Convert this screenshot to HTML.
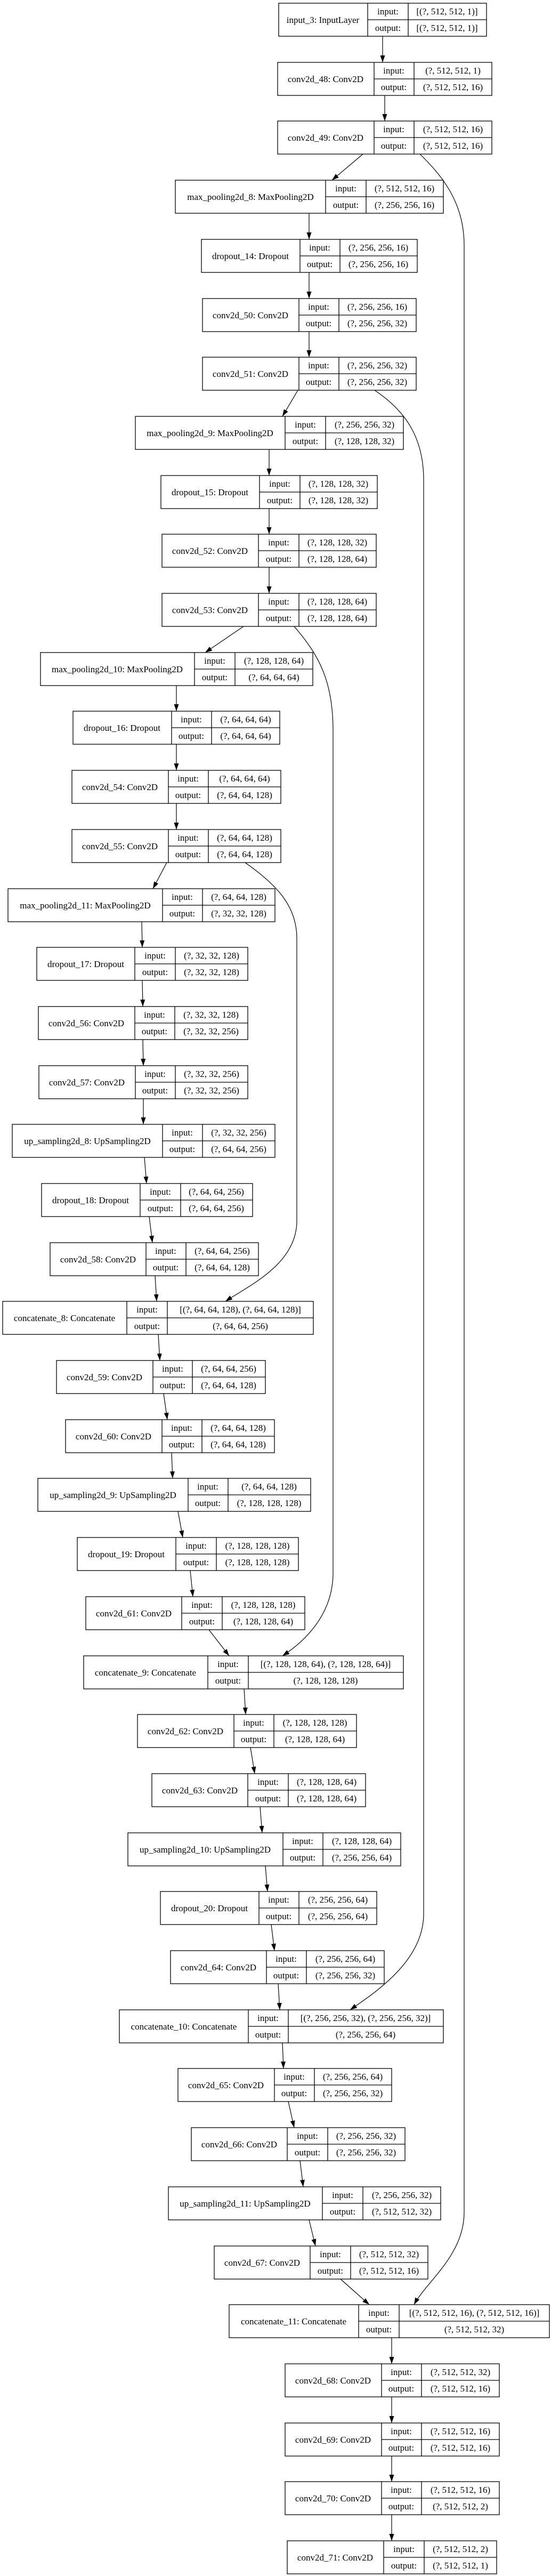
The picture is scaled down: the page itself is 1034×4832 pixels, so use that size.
<!DOCTYPE html>
<html><head><meta charset="utf-8"><style>
html,body{margin:0;padding:0;background:#fff;}
svg{display:block;}
text{font-family:"Liberation Serif","DejaVu Serif",serif;font-size:17px;fill:#000;}
</style></head><body>
<svg width="1034" height="4832" viewBox="0 0 1034 4832" xmlns="http://www.w3.org/2000/svg">
<defs>
<marker id="a" markerUnits="userSpaceOnUse" markerWidth="14" markerHeight="10" refX="13" refY="4.5" orient="auto"><path d="M0,0 L13,4.5 L0,9 z" fill="#000"/></marker>
</defs>
<g fill="none" stroke="#000" stroke-width="1.2">
<!-- skip connections -->
<path d="M788,289 C830,330 871,380 871,460 L871,4150 C871,4230 800,4280 777,4323" marker-end="url(#a)"/>
<path d="M703,732 C760,770 795,820 795,900 L795,3590 C795,3680 700,3740 657,3770" marker-end="url(#a)"/>
<path d="M552,1175 C600,1230 625,1280 625,1370 L625,2950 C625,3030 570,3080 530,3106" marker-end="url(#a)"/>
<path d="M460,1618 C520,1660 557,1700 557,1760 L557,2290 C557,2370 470,2410 423,2441" marker-end="url(#a)"/>
<!-- main edges -->
<path d="M718,68 L718,117" marker-end="url(#a)"/>
<path d="M722,179 L722,227" marker-end="url(#a)"/>
<path d="M681,289 L623,338" marker-end="url(#a)"/>
<path d="M580,400 L580,449" marker-end="url(#a)"/>
<path d="M580,511 L580,560" marker-end="url(#a)"/>
<path d="M580,622 L580,670" marker-end="url(#a)"/>
<path d="M559,732 L530,781" marker-end="url(#a)"/>
<path d="M505,843 L505,892" marker-end="url(#a)"/>
<path d="M505,954 L505,1002" marker-end="url(#a)"/>
<path d="M505,1064 L505,1113" marker-end="url(#a)"/>
<path d="M457,1175 L385,1224" marker-end="url(#a)"/>
<path d="M331,1286 L331,1334" marker-end="url(#a)"/>
<path d="M331,1396 L331,1445" marker-end="url(#a)"/>
<path d="M331,1507 L331,1556" marker-end="url(#a)"/>
<path d="M313,1618 L287,1667" marker-end="url(#a)"/>
<path d="M266,1729 L267,1777" marker-end="url(#a)"/>
<path d="M267,1839 L268,1888" marker-end="url(#a)"/>
<path d="M268,1950 L269,1999" marker-end="url(#a)"/>
<path d="M269,2061 L269,2109" marker-end="url(#a)"/>
<path d="M271,2171 L275,2220" marker-end="url(#a)"/>
<path d="M280,2282 L286,2331" marker-end="url(#a)"/>
<path d="M291,2393 L294,2441" marker-end="url(#a)"/>
<path d="M297,2503 L300,2552" marker-end="url(#a)"/>
<path d="M307,2614 L314,2663" marker-end="url(#a)"/>
<path d="M322,2725 L324,2773" marker-end="url(#a)"/>
<path d="M334,2835 L343,2884" marker-end="url(#a)"/>
<path d="M357,2946 L362,2995" marker-end="url(#a)"/>
<path d="M392,3057 L430,3106" marker-end="url(#a)"/>
<path d="M458,3168 L461,3216" marker-end="url(#a)"/>
<path d="M470,3278 L478,3327" marker-end="url(#a)"/>
<path d="M488,3389 L492,3438" marker-end="url(#a)"/>
<path d="M498,3500 L502,3548" marker-end="url(#a)"/>
<path d="M509,3610 L515,3659" marker-end="url(#a)"/>
<path d="M522,3721 L525,3770" marker-end="url(#a)"/>
<path d="M530,3832 L532,3880" marker-end="url(#a)"/>
<path d="M541,3942 L552,3991" marker-end="url(#a)"/>
<path d="M563,4053 L569,4102" marker-end="url(#a)"/>
<path d="M580,4164 L592,4213" marker-end="url(#a)"/>
<path d="M639,4275 L693,4323" marker-end="url(#a)"/>
<path d="M735,4385 L735,4434" marker-end="url(#a)"/>
<path d="M735,4496 L735,4545" marker-end="url(#a)"/>
<path d="M735,4607 L735,4655" marker-end="url(#a)"/>
<path d="M735,4717 L735,4766" marker-end="url(#a)"/>
</g>
<g fill="#fff" stroke="#000" stroke-width="1.3">
<!-- boxes: rect + dividers -->
<rect x="523" y="6" width="390" height="62"/><path d="M690,6V68M766,6V68M690,37H913"/>
<rect x="521" y="117" width="402" height="62"/><path d="M702,117V179M777,117V179M702,148H923"/>
<rect x="521" y="227" width="402" height="62"/><path d="M702,227V289M777,227V289M702,258H923"/>
<rect x="329" y="338" width="503" height="62"/><path d="M611,338V400M687,338V400M611,369H832"/>
<rect x="378" y="449" width="405" height="62"/><path d="M563,449V511M638,449V511M563,480H783"/>
<rect x="380" y="560" width="401" height="62"/><path d="M561,560V622M636,560V622M561,591H781"/>
<rect x="380" y="670" width="401" height="62"/><path d="M561,670V732M636,670V732M561,701H781"/>
<rect x="254" y="781" width="503" height="62"/><path d="M535,781V843M611,781V843M535,812H757"/>
<rect x="302" y="892" width="406" height="62"/><path d="M487,892V954M563,892V954M487,923H708"/>
<rect x="304" y="1002" width="402" height="62"/><path d="M485,1002V1064M561,1002V1064M485,1033H706"/>
<rect x="304" y="1113" width="402" height="62"/><path d="M485,1113V1175M561,1113V1175M485,1144H706"/>
<rect x="76" y="1224" width="511" height="62"/><path d="M365,1224V1286M441,1224V1286M365,1255H587"/>
<rect x="137" y="1334" width="388" height="62"/><path d="M322,1334V1396M397,1334V1396M322,1365H525"/>
<rect x="135" y="1445" width="392" height="62"/><path d="M316,1445V1507M391,1445V1507M316,1476H527"/>
<rect x="135" y="1556" width="392" height="62"/><path d="M316,1556V1618M391,1556V1618M316,1587H527"/>
<rect x="15" y="1667" width="501" height="62"/><path d="M305,1667V1729M380,1667V1729M305,1698H516"/>
<rect x="69" y="1777" width="396" height="62"/><path d="M253,1777V1839M329,1777V1839M253,1808H465"/>
<rect x="72" y="1888" width="393" height="62"/><path d="M253,1888V1950M328,1888V1950M253,1919H465"/>
<rect x="73" y="1999" width="392" height="62"/><path d="M254,1999V2061M329,1999V2061M254,2030H465"/>
<rect x="23" y="2109" width="493" height="62"/><path d="M305,2109V2171M380,2109V2171M305,2140H516"/>
<rect x="78" y="2220" width="396" height="62"/><path d="M263,2220V2282M339,2220V2282M263,2251H474"/>
<rect x="94" y="2331" width="391" height="62"/><path d="M274,2331V2393M349,2331V2393M274,2362H485"/>
<rect x="5" y="2441" width="583" height="62"/><path d="M238,2441V2503M314,2441V2503M238,2472H588"/>
<rect x="106" y="2552" width="392" height="62"/><path d="M287,2552V2614M361,2552V2614M287,2583H498"/>
<rect x="123" y="2663" width="392" height="62"/><path d="M304,2663V2725M379,2663V2725M304,2694H515"/>
<rect x="71" y="2773" width="512" height="62"/><path d="M353,2773V2835M428,2773V2835M353,2804H583"/>
<rect x="145" y="2884" width="415" height="62"/><path d="M330,2884V2946M406,2884V2946M330,2915H560"/>
<rect x="161" y="2995" width="411" height="62"/><path d="M341,2995V3057M417,2995V3057M341,3026H572"/>
<rect x="157" y="3106" width="600" height="62"/><path d="M390,3106V3168M466,3106V3168M390,3137H757"/>
<rect x="258" y="3216" width="411" height="62"/><path d="M439,3216V3278M514,3216V3278M439,3247H669"/>
<rect x="285" y="3327" width="401" height="62"/><path d="M465,3327V3389M541,3327V3389M465,3358H686"/>
<rect x="240" y="3438" width="512" height="62"/><path d="M531,3438V3500M606,3438V3500M531,3469H752"/>
<rect x="301" y="3548" width="406" height="62"/><path d="M486,3548V3610M561,3548V3610M486,3579H707"/>
<rect x="320" y="3659" width="401" height="62"/><path d="M500,3659V3721M575,3659V3721M500,3690H721"/>
<rect x="224" y="3770" width="608" height="62"/><path d="M466,3770V3832M541,3770V3832M466,3801H832"/>
<rect x="334" y="3880" width="401" height="62"/><path d="M515,3880V3942M590,3880V3942M515,3911H735"/>
<rect x="359" y="3991" width="401" height="62"/><path d="M539,3991V4053M615,3991V4053M539,4022H760"/>
<rect x="316" y="4102" width="511" height="62"/><path d="M605,4102V4164M681,4102V4164M605,4133H827"/>
<rect x="402" y="4213" width="401" height="62"/><path d="M582,4213V4275M658,4213V4275M582,4244H803"/>
<rect x="430" y="4323" width="601" height="62"/><path d="M673,4323V4385M749,4323V4385M673,4354H1031"/>
<rect x="535" y="4434" width="402" height="62"/><path d="M716,4434V4496M791,4434V4496M716,4465H937"/>
<rect x="535" y="4545" width="402" height="62"/><path d="M716,4545V4607M791,4545V4607M716,4576H937"/>
<rect x="535" y="4655" width="402" height="62"/><path d="M716,4655V4717M791,4655V4717M716,4686H937"/>
<rect x="539" y="4766" width="393" height="62"/><path d="M720,4766V4828M796,4766V4828M720,4797H932"/>
</g>
<g text-anchor="middle">
<text x="606" y="43">input_3: InputLayer</text><text x="728" y="27">input:</text><text x="728" y="58">output:</text><text x="839" y="27">[(?, 512, 512, 1)]</text><text x="839" y="58">[(?, 512, 512, 1)]</text>
<text x="611" y="154">conv2d_48: Conv2D</text><text x="739" y="138">input:</text><text x="739" y="169">output:</text><text x="850" y="138">(?, 512, 512, 1)</text><text x="850" y="169">(?, 512, 512, 16)</text>
<text x="611" y="264">conv2d_49: Conv2D</text><text x="739" y="248">input:</text><text x="739" y="279">output:</text><text x="850" y="248">(?, 512, 512, 16)</text><text x="850" y="279">(?, 512, 512, 16)</text>
<text x="470" y="375">max_pooling2d_8: MaxPooling2D</text><text x="649" y="359">input:</text><text x="649" y="390">output:</text><text x="759" y="359">(?, 512, 512, 16)</text><text x="759" y="390">(?, 256, 256, 16)</text>
<text x="470" y="486">dropout_14: Dropout</text><text x="600" y="470">input:</text><text x="600" y="501">output:</text><text x="710" y="470">(?, 256, 256, 16)</text><text x="710" y="501">(?, 256, 256, 16)</text>
<text x="470" y="597">conv2d_50: Conv2D</text><text x="598" y="581">input:</text><text x="598" y="612">output:</text><text x="708" y="581">(?, 256, 256, 16)</text><text x="708" y="612">(?, 256, 256, 32)</text>
<text x="470" y="707">conv2d_51: Conv2D</text><text x="598" y="691">input:</text><text x="598" y="722">output:</text><text x="708" y="691">(?, 256, 256, 32)</text><text x="708" y="722">(?, 256, 256, 32)</text>
<text x="394" y="818">max_pooling2d_9: MaxPooling2D</text><text x="573" y="802">input:</text><text x="573" y="833">output:</text><text x="684" y="802">(?, 256, 256, 32)</text><text x="684" y="833">(?, 128, 128, 32)</text>
<text x="394" y="929">dropout_15: Dropout</text><text x="525" y="913">input:</text><text x="525" y="944">output:</text><text x="635" y="913">(?, 128, 128, 32)</text><text x="635" y="944">(?, 128, 128, 32)</text>
<text x="394" y="1039">conv2d_52: Conv2D</text><text x="523" y="1023">input:</text><text x="523" y="1054">output:</text><text x="633" y="1023">(?, 128, 128, 32)</text><text x="633" y="1054">(?, 128, 128, 64)</text>
<text x="394" y="1150">conv2d_53: Conv2D</text><text x="523" y="1134">input:</text><text x="523" y="1165">output:</text><text x="633" y="1134">(?, 128, 128, 64)</text><text x="633" y="1165">(?, 128, 128, 64)</text>
<text x="220" y="1261">max_pooling2d_10: MaxPooling2D</text><text x="403" y="1245">input:</text><text x="403" y="1276">output:</text><text x="514" y="1245">(?, 128, 128, 64)</text><text x="514" y="1276">(?, 64, 64, 64)</text>
<text x="229" y="1371">dropout_16: Dropout</text><text x="359" y="1355">input:</text><text x="359" y="1386">output:</text><text x="461" y="1355">(?, 64, 64, 64)</text><text x="461" y="1386">(?, 64, 64, 64)</text>
<text x="225" y="1482">conv2d_54: Conv2D</text><text x="353" y="1466">input:</text><text x="353" y="1497">output:</text><text x="459" y="1466">(?, 64, 64, 64)</text><text x="459" y="1497">(?, 64, 64, 128)</text>
<text x="225" y="1593">conv2d_55: Conv2D</text><text x="353" y="1577">input:</text><text x="353" y="1608">output:</text><text x="459" y="1577">(?, 64, 64, 128)</text><text x="459" y="1608">(?, 64, 64, 128)</text>
<text x="160" y="1704">max_pooling2d_11: MaxPooling2D</text><text x="342" y="1688">input:</text><text x="342" y="1719">output:</text><text x="448" y="1688">(?, 64, 64, 128)</text><text x="448" y="1719">(?, 32, 32, 128)</text>
<text x="161" y="1814">dropout_17: Dropout</text><text x="291" y="1798">input:</text><text x="291" y="1829">output:</text><text x="397" y="1798">(?, 32, 32, 128)</text><text x="397" y="1829">(?, 32, 32, 128)</text>
<text x="162" y="1925">conv2d_56: Conv2D</text><text x="290" y="1909">input:</text><text x="290" y="1940">output:</text><text x="396" y="1909">(?, 32, 32, 128)</text><text x="396" y="1940">(?, 32, 32, 256)</text>
<text x="163" y="2036">conv2d_57: Conv2D</text><text x="291" y="2020">input:</text><text x="291" y="2051">output:</text><text x="397" y="2020">(?, 32, 32, 256)</text><text x="397" y="2051">(?, 32, 32, 256)</text>
<text x="164" y="2146">up_sampling2d_8: UpSampling2D</text><text x="342" y="2130">input:</text><text x="342" y="2161">output:</text><text x="448" y="2130">(?, 32, 32, 256)</text><text x="448" y="2161">(?, 64, 64, 256)</text>
<text x="170" y="2257">dropout_18: Dropout</text><text x="301" y="2241">input:</text><text x="301" y="2272">output:</text><text x="406" y="2241">(?, 64, 64, 256)</text><text x="406" y="2272">(?, 64, 64, 256)</text>
<text x="184" y="2368">conv2d_58: Conv2D</text><text x="311" y="2352">input:</text><text x="311" y="2383">output:</text><text x="417" y="2352">(?, 64, 64, 256)</text><text x="417" y="2383">(?, 64, 64, 128)</text>
<text x="121" y="2478">concatenate_8: Concatenate</text><text x="276" y="2462">input:</text><text x="276" y="2493">output:</text><text x="451" y="2462">[(?, 64, 64, 128), (?, 64, 64, 128)]</text><text x="451" y="2493">(?, 64, 64, 256)</text>
<text x="196" y="2589">conv2d_59: Conv2D</text><text x="324" y="2573">input:</text><text x="324" y="2604">output:</text><text x="429" y="2573">(?, 64, 64, 256)</text><text x="429" y="2604">(?, 64, 64, 128)</text>
<text x="213" y="2700">conv2d_60: Conv2D</text><text x="341" y="2684">input:</text><text x="341" y="2715">output:</text><text x="447" y="2684">(?, 64, 64, 128)</text><text x="447" y="2715">(?, 64, 64, 128)</text>
<text x="212" y="2810">up_sampling2d_9: UpSampling2D</text><text x="390" y="2794">input:</text><text x="390" y="2825">output:</text><text x="505" y="2794">(?, 64, 64, 128)</text><text x="505" y="2825">(?, 128, 128, 128)</text>
<text x="237" y="2921">dropout_19: Dropout</text><text x="368" y="2905">input:</text><text x="368" y="2936">output:</text><text x="483" y="2905">(?, 128, 128, 128)</text><text x="483" y="2936">(?, 128, 128, 128)</text>
<text x="251" y="3032">conv2d_61: Conv2D</text><text x="379" y="3016">input:</text><text x="379" y="3047">output:</text><text x="494" y="3016">(?, 128, 128, 128)</text><text x="494" y="3047">(?, 128, 128, 64)</text>
<text x="273" y="3143">concatenate_9: Concatenate</text><text x="428" y="3127">input:</text><text x="428" y="3158">output:</text><text x="611" y="3127">[(?, 128, 128, 64), (?, 128, 128, 64)]</text><text x="611" y="3158">(?, 128, 128, 128)</text>
<text x="348" y="3253">conv2d_62: Conv2D</text><text x="476" y="3237">input:</text><text x="476" y="3268">output:</text><text x="591" y="3237">(?, 128, 128, 128)</text><text x="591" y="3268">(?, 128, 128, 64)</text>
<text x="375" y="3364">conv2d_63: Conv2D</text><text x="503" y="3348">input:</text><text x="503" y="3379">output:</text><text x="613" y="3348">(?, 128, 128, 64)</text><text x="613" y="3379">(?, 128, 128, 64)</text>
<text x="385" y="3475">up_sampling2d_10: UpSampling2D</text><text x="568" y="3459">input:</text><text x="568" y="3490">output:</text><text x="679" y="3459">(?, 128, 128, 64)</text><text x="679" y="3490">(?, 256, 256, 64)</text>
<text x="393" y="3585">dropout_20: Dropout</text><text x="523" y="3569">input:</text><text x="523" y="3600">output:</text><text x="634" y="3569">(?, 256, 256, 64)</text><text x="634" y="3600">(?, 256, 256, 64)</text>
<text x="410" y="3696">conv2d_64: Conv2D</text><text x="537" y="3680">input:</text><text x="537" y="3711">output:</text><text x="648" y="3680">(?, 256, 256, 64)</text><text x="648" y="3711">(?, 256, 256, 32)</text>
<text x="345" y="3807">concatenate_10: Concatenate</text><text x="503" y="3791">input:</text><text x="503" y="3822">output:</text><text x="686" y="3791">[(?, 256, 256, 32), (?, 256, 256, 32)]</text><text x="686" y="3822">(?, 256, 256, 64)</text>
<text x="424" y="3917">conv2d_65: Conv2D</text><text x="552" y="3901">input:</text><text x="552" y="3932">output:</text><text x="662" y="3901">(?, 256, 256, 64)</text><text x="662" y="3932">(?, 256, 256, 32)</text>
<text x="449" y="4028">conv2d_66: Conv2D</text><text x="577" y="4012">input:</text><text x="577" y="4043">output:</text><text x="687" y="4012">(?, 256, 256, 32)</text><text x="687" y="4043">(?, 256, 256, 32)</text>
<text x="460" y="4139">up_sampling2d_11: UpSampling2D</text><text x="643" y="4123">input:</text><text x="643" y="4154">output:</text><text x="754" y="4123">(?, 256, 256, 32)</text><text x="754" y="4154">(?, 512, 512, 32)</text>
<text x="492" y="4250">conv2d_67: Conv2D</text><text x="620" y="4234">input:</text><text x="620" y="4265">output:</text><text x="730" y="4234">(?, 512, 512, 32)</text><text x="730" y="4265">(?, 512, 512, 16)</text>
<text x="551" y="4360">concatenate_11: Concatenate</text><text x="711" y="4344">input:</text><text x="711" y="4375">output:</text><text x="890" y="4344">[(?, 512, 512, 16), (?, 512, 512, 16)]</text><text x="890" y="4375">(?, 512, 512, 32)</text>
<text x="625" y="4471">conv2d_68: Conv2D</text><text x="753" y="4455">input:</text><text x="753" y="4486">output:</text><text x="864" y="4455">(?, 512, 512, 32)</text><text x="864" y="4486">(?, 512, 512, 16)</text>
<text x="625" y="4582">conv2d_69: Conv2D</text><text x="753" y="4566">input:</text><text x="753" y="4597">output:</text><text x="864" y="4566">(?, 512, 512, 16)</text><text x="864" y="4597">(?, 512, 512, 16)</text>
<text x="625" y="4692">conv2d_70: Conv2D</text><text x="753" y="4676">input:</text><text x="753" y="4707">output:</text><text x="864" y="4676">(?, 512, 512, 16)</text><text x="864" y="4707">(?, 512, 512, 2)</text>
<text x="629" y="4803">conv2d_71: Conv2D</text><text x="758" y="4787">input:</text><text x="758" y="4818">output:</text><text x="864" y="4787">(?, 512, 512, 2)</text><text x="864" y="4818">(?, 512, 512, 1)</text>
</g>
</svg>
</body></html>
